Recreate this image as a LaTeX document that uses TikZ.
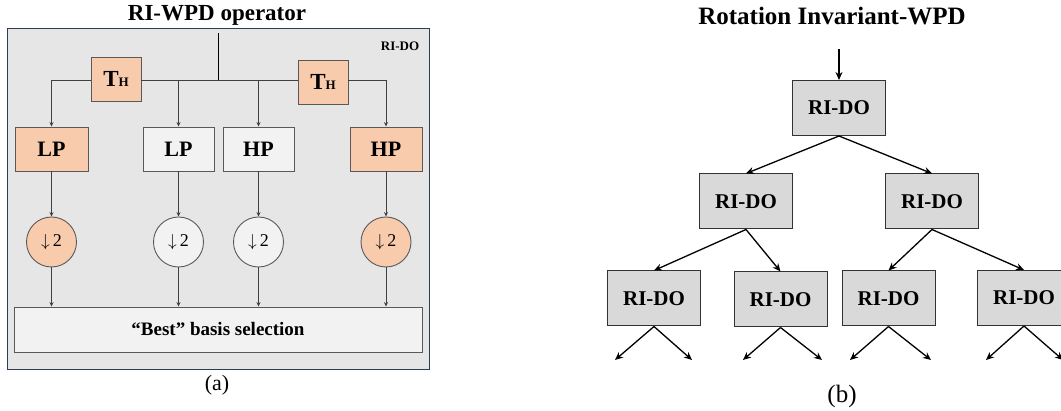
\documentclass[tikz,border=0pt]{standalone}
\usepackage{fontspec}
\setmainfont{Liberation Serif}
\usetikzlibrary{arrows.meta}
\definecolor{peach}{HTML}{F8CBAD}
\definecolor{pale}{HTML}{F2F2F2}
\definecolor{framefill}{HTML}{E6E6E6}
\definecolor{frameedge}{HTML}{2E3D52}
\definecolor{edgegray}{HTML}{595959}
\definecolor{linegray}{HTML}{404040}
\definecolor{rifill}{HTML}{D9D9D9}
\newcommand{\fs}[1]{\fontsize{#1}{#1}\selectfont}
\newcommand{\dsamp}{$\downarrow$\,2}
\begin{document}
\begin{tikzpicture}[x=1pt,y=-1pt,
  abox/.style={draw=edgegray,line width=0.9pt,inner sep=0pt,minimum height=44pt,font=\fs{22}\bfseries},
  dcirc/.style={circle,draw=edgegray,line width=0.9pt,inner sep=0pt,minimum size=50pt,font=\fs{18}},
  aline/.style={draw=linegray,line width=0.9pt},
  aarrow/.style={aline,-{Stealth[length=4.5pt,width=4pt]}},
  rbox/.style={draw=black!80,line width=1pt,fill=rifill,inner sep=0pt,minimum width=93pt,minimum height=55pt,font=\fs{21}\bfseries},
  barrow/.style={draw=black,line width=1.3pt,-{Stealth[length=8pt,width=7pt]}},
  captext/.style={font=\fs{22}}]
\useasboundingbox (0,0) rectangle (1061,411);
% ---------- (a) ----------
\node[font=\fs{23}\bfseries] (ta) at (217,15) {RI-WPD operator};
\node[draw=frameedge,line width=1pt,fill=framefill,minimum width=422pt,minimum height=341pt,inner sep=0pt] (frame) at (218,199.5) {};
\node[font=\fs{13}\bfseries] (rido) at (400,46) {RI-DO};
\coordinate (in) at (218,33);
\coordinate (j) at (218,80);
\node[abox,fill=peach,minimum width=50pt] (th1) at (116,79) {{\fs{23}T}{\fs{13}H}};
\node[abox,fill=peach,minimum width=50pt] (th2) at (323,82) {{\fs{23}T}{\fs{13}H}};
\node[abox,fill=peach,minimum width=73pt] (lp1) at (51.5,149) {LP};
\node[abox,fill=pale,minimum width=71pt] (lp2) at (178.5,149) {LP};
\node[abox,fill=pale,minimum width=71pt] (hp2) at (258.5,149) {HP};
\node[abox,fill=peach,minimum width=72pt] (hp1) at (386,149) {HP};
\node[dcirc,fill=peach] (d1) at (51.5,242) {\dsamp};
\node[dcirc,fill=pale] (d2) at (178.5,242) {\dsamp};
\node[dcirc,fill=pale] (d3) at (258.5,242) {\dsamp};
\node[dcirc,fill=peach] (d4) at (386,242) {\dsamp};
\node[draw=edgegray,line width=0.9pt,fill=pale,minimum width=408pt,minimum height=45pt,inner sep=0pt,font=\fs{19}\bfseries] (best) at (218,329.5) {“Best” basis selection};
\node[captext] (ca) at (217,385) {(a)};
\draw[draw=black,line width=0.9pt] (in) -- (j);
\draw[aline] (j) -- (th1.east |- j);
\draw[aline] (j) -- (th2.west |- j);
\draw[aarrow] (th1.west |- j) -| (lp1.north);
\draw[aarrow] (th2.east |- j) -| (hp1.north);
\draw[aarrow] (j) -| (lp2.north);
\draw[aarrow] (j) -| (hp2.north);
\foreach \a/\b in {lp1/d1,lp2/d2,hp2/d3,hp1/d4}{
  \draw[aarrow] (\a.south) -- (\b.north);
  \draw[aarrow] (\b.south) -- (\b.south |- best.north);
}
% ---------- (b) ----------
\node[font=\fs{25}\bfseries] (tb) at (832,16) {Rotation Invariant-WPD};
\coordinate (rin) at (839,49);
\node[rbox] (r0) at (839,108) {RI-DO};
\node[rbox] (r1) at (746,201.5) {RI-DO};
\node[rbox] (r2) at (932,201.5) {RI-DO};
\node[rbox] (r11) at (654,298.5) {RI-DO};
\node[rbox] (r12) at (780.5,299.5) {RI-DO};
\node[rbox] (r21) at (888.5,298.5) {RI-DO};
\node[rbox] (r22) at (1024,298) {RI-DO};
\node[captext,font=\fs{25}] (cb) at (842,396) {(b)};
\draw[barrow] (rin) -- (r0.north);
\draw[barrow] (r0.south) -- (r1.north);
\draw[barrow] (r0.south) -- (r2.north);
\draw[barrow] (r1.south) -- (r11.north);
\draw[barrow] (r1.south) -- (r12.north);
\draw[barrow] (r2.south) -- (r21.north);
\draw[barrow] (r2.south) -- (r22.north);
\coordinate (l1) at (615,360); \coordinate (l2) at (692,360);
\coordinate (l3) at (743,360); \coordinate (l4) at (822,360);
\coordinate (l5) at (850,360); \coordinate (l6) at (931,360);
\coordinate (l7) at (986,360); \coordinate (l8) at (1063,360);
\draw[barrow] (r11.south) -- (l1);
\draw[barrow] (r11.south) -- (l2);
\draw[barrow] (r12.south) -- (l3);
\draw[barrow] (r12.south) -- (l4);
\draw[barrow] (r21.south) -- (l5);
\draw[barrow] (r21.south) -- (l6);
\draw[barrow] (r22.south) -- (l7);
\draw[barrow] (r22.south) -- (l8);
\end{tikzpicture}
\end{document}
